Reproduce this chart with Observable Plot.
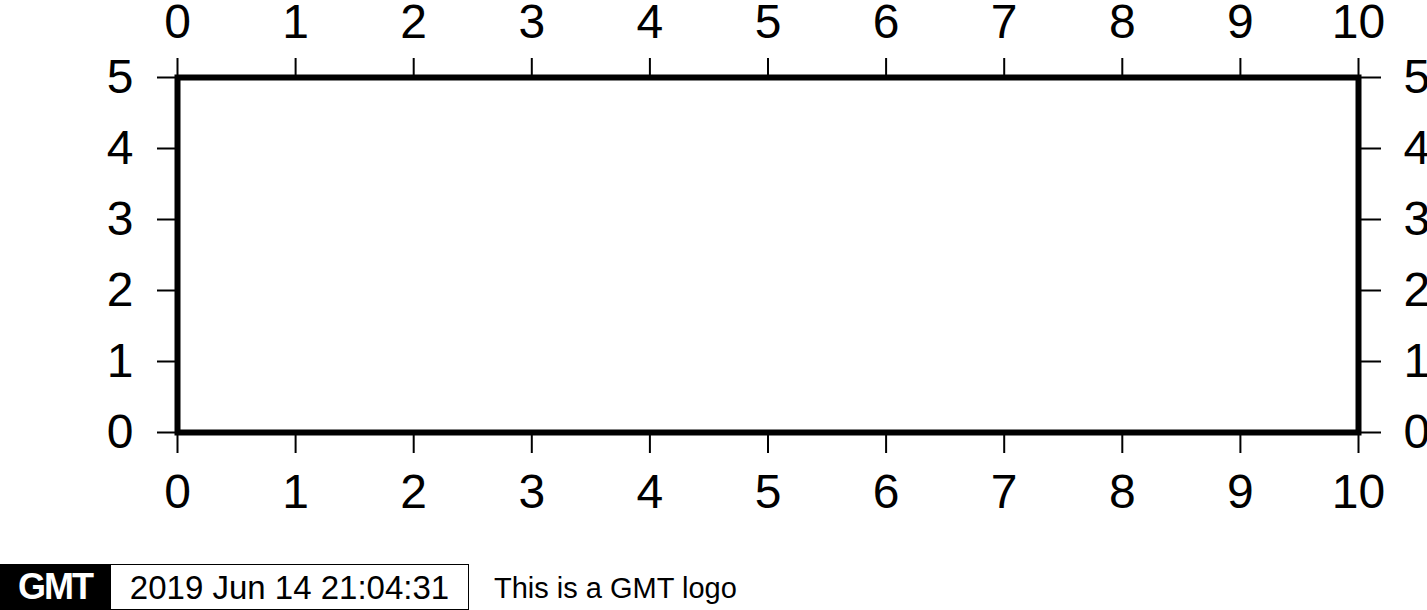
<!DOCTYPE html>
<html>
<head>
<meta charset="utf-8">
<script src="https://cdn.jsdelivr.net/npm/d3@7"></script>
<script src="https://cdn.jsdelivr.net/npm/@observablehq/plot@0.6"></script>
<style>
  html, body { margin: 0; padding: 0; background: #fff; }
  #wrap { position: relative; width: 1427px; height: 610px; overflow: hidden; font-family: "Liberation Sans", Arial, Helvetica, sans-serif; }
  #chart { position: absolute; left: 0; top: 0; }
  #logo { position: absolute; left: 0; top: 564px; width: 110px; height: 46px; background: #000; color: #fff;
          font: 700 36px "Liberation Sans", sans-serif; line-height: 46px; text-align: center; letter-spacing: -2px; }
  #stamp { position: absolute; left: 110px; top: 564px; width: 357px; height: 44px; border: 1px solid #000; background: #fff;
           font-size: 33px; line-height: 46px; text-align: center; color: #000; }
  #label { position: absolute; left: 494px; top: 564px; height: 46px; line-height: 48px; font-size: 29px; color: #000; }
</style>
</head>
<body>
<div id="wrap">
  <div id="chart"></div>
  <div id="logo">GMT</div>
  <div id="stamp">2019 Jun 14 21:04:31</div>
  <div id="label">This is a GMT logo</div>
</div>
<script>
const xDomain = [0, 10];
const yDomain = [0, 5];
const xTicks = [0, 1, 2, 3, 4, 5, 6, 7, 8, 9, 10];
const yTicks = [0, 1, 2, 3, 4, 5];

const fontSize = 48;
const chart = Plot.plot({
  width: 1427,
  height: 560,
  marginLeft: 177,
  marginRight: 69,
  marginTop: 77,
  marginBottom: 128,
  style: { fontFamily: '"Liberation Sans", Arial, Helvetica, sans-serif', background: "#fff", color: "#000", overflow: "visible" },
  x: { domain: xDomain },
  y: { domain: yDomain },
  marks: [
    Plot.axisX({ anchor: "bottom", ticks: xTicks, tickSize: 21, tickPadding: 20, fontSize, strokeWidth: 2, tickFormat: d => String(d) }),
    Plot.axisX({ anchor: "top", ticks: xTicks, tickSize: 20, tickPadding: 20, fontSize, strokeWidth: 2, tickFormat: d => String(d) }),
    Plot.axisY({ anchor: "left", ticks: yTicks, tickSize: 20, tickPadding: 24, fontSize, strokeWidth: 2, tickFormat: d => String(d) }),
    Plot.axisY({ anchor: "right", ticks: yTicks, tickSize: 22, tickPadding: 23, fontSize, strokeWidth: 2, tickFormat: d => String(d) }),
    Plot.frame({ stroke: "#000", strokeWidth: 6 })
  ]
});
document.getElementById("chart").appendChild(chart);
</script>
</body>
</html>
